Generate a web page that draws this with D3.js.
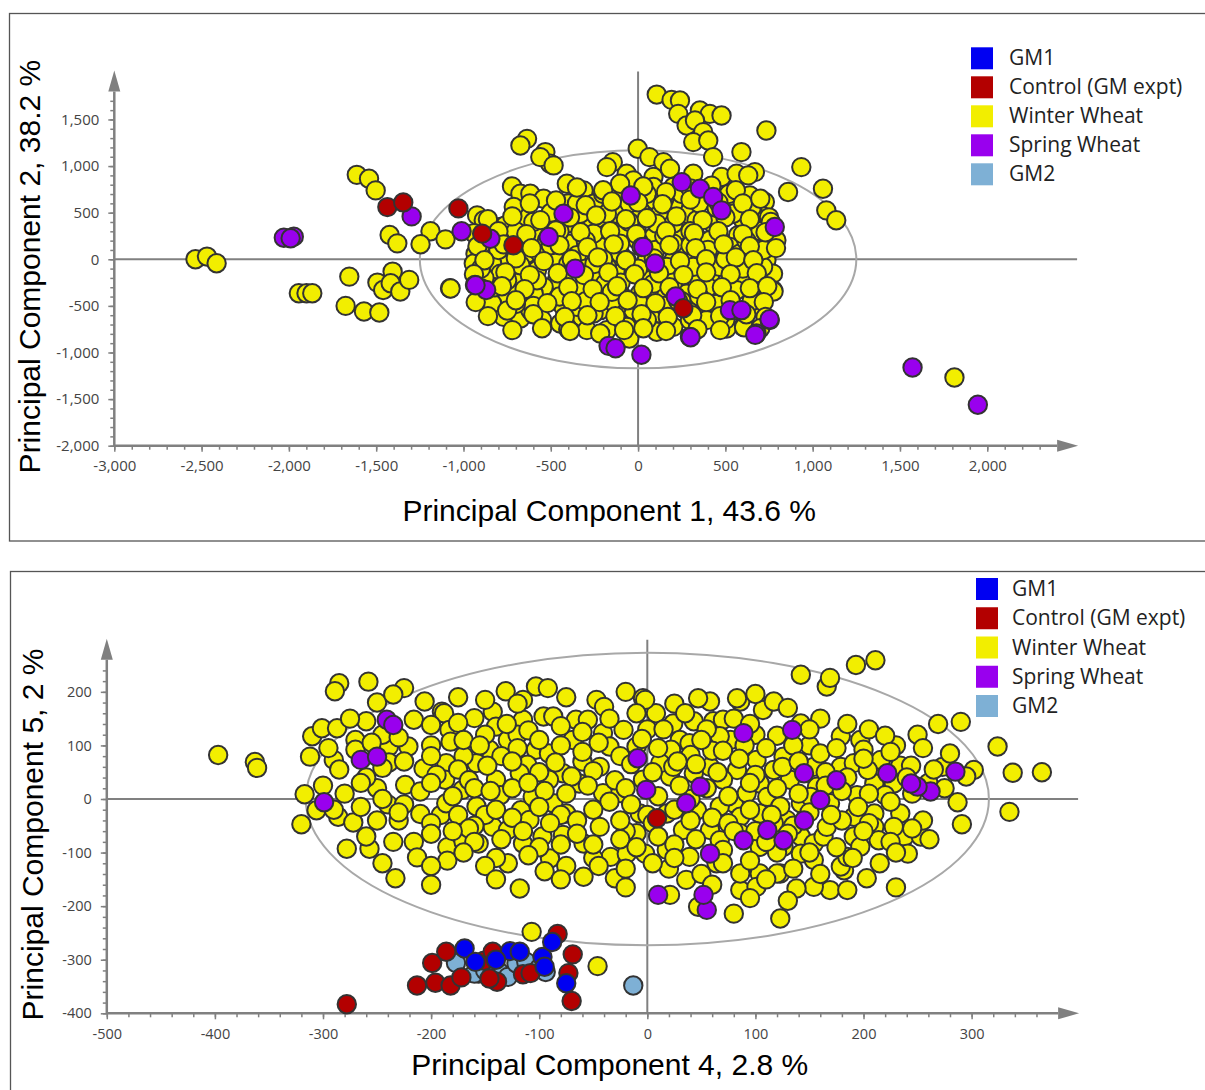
<!DOCTYPE html>
<html>
<head>
<meta charset="utf-8">
<script src="https://cdn.jsdelivr.net/npm/d3@7"></script>
<style>
  body { margin: 0; background: #fff; }
  svg { display: block; }
  .tick text { font-family: "Open Sans", "Noto Sans", sans-serif; fill: #444; }
  .title { font-family: "Liberation Sans", Arial, sans-serif; fill: #000; }
  .legend text { font-family: "Open Sans", "Noto Sans", sans-serif; fill: #222; }
</style>
</head>
<body>
<svg width="1205" height="1090"></svg>
<script>
// groups in legend order
const groups = ["GM1", "Control (GM expt)", "Winter Wheat", "Spring Wheat", "GM2"];
const colors = ["#0000f2", "#b30000", "#f2ee00", "#9900ee", "#7eb0d5"];

// ---------- panel 1: PC1 vs PC2 ----------
const winterTop = [
  [-2535,0],[-2469,29],[-2414,-43],[-1943,-364],[-1899,-364],[-1866,-364],
  [-1654,-186],[-1675,-500],[-1570,-561],[-1482,-571],[-1493,-250],[-1460,-329],
  [-1406,-132],[-1417,-257],[-1362,-346],[-1311,-221],[-1077,-311],
  [-1611,906],[-1541,864],[-1503,739],[-1423,260],[-1379,171],[-1189,300],[-1103,214],[-1246,161],
  [-922,471],[-884,418],[-789,346],[-1074,-314],
  [-636,1292],[-674,1221],[-531,1150],[-503,1025],[-560,1096],[-484,1007],
  [-722,782],[-674,703],[-617,703],[-541,650],
  [107,1767],[192,1710],[240,1703],[230,1560],[278,1435],[354,1596],[411,1560],[478,1542],
  [326,1489],[373,1364],[316,1257],[402,1274],[735,1382],[592,1150],[430,1096],[478,882],
  [564,918],[669,935],[631,900],[935,989],[859,721],[1059,757],[1078,525],[1135,418],
  [1812,-1268],
  [-2,1185],[65,1096],[145,1042],[-145,1042],[-179,989],[-65,918],[88,882],[183,971],[202,775],
  [316,918],[554,650],[640,685],[726,614],[707,471],[602,418],[573,257],[678,168],[735,-11],
  [773,-154],[773,-332],[659,-296],[564,-82],[469,96],[335,239],[430,382],[278,489],[202,596],
  [97,632],[11,525],[-103,311],[-217,418],[-312,739],[-398,596],[-398,168],[-579,257],[-674,454],
  [-712,561],[-760,364],[-636,61],[-750,-11],[-836,-46],[-931,61],[-941,-46],[-827,-225],
  [-665,-225],[-579,-118],[-712,-368],[-770,-618],[-674,-635],[-560,-439],[-446,-689],[-484,-368],
  [-427,-189],[-350,-332],[-322,-618],[-293,-760],[-217,-546],[-255,-189],[-150,25],[-179,275],
  [-217,132],[-103,61],[-8,311],[88,239],[259,61],[183,-189],[278,-368],[411,-189],[449,-403],
  [354,-582],[411,-618],[602,-725],[507,-742],[107,-778],[-27,-653],[-103,-368],[-179,-760],
  [69,-225],[-27,-546],[126,-582],[-103,-154],[-236,-368],[507,-314],[621,-225],[716,-82],
  [745,132],[659,346],[526,132],[373,25],[240,311],[126,489],[-122,489],[-255,596],[-408,382],
  [-484,25],[-350,43],[-560,61],[-674,-64],[-788,-154],[-865,-368],[-779,-439],[-617,-546],
  [-884,-439],[-836,-475],[-179,489],[-293,346],[-103,703],[-27,846],[88,775],[-103,810],
  [-408,810],[-522,204],[335,-225],[411,-11],[202,-11],[-27,-154],[69,-403],[-179,-82],
  [-350,-511],[-427,-511],[-217,-796],[-65,-725],[202,-725],[392,-653],[297,-653],[469,-82],
  [564,-332],[678,61],[583,61],[792,204],[659,489],[545,489],[411,204],[335,418],[202,382],
  [107,382],[202,168],[-103,168],[-255,275],[-331,489],[-465,-225],[-541,-296],[-598,-368],
  [-750,-225],[-255,-582],[-122,-511],[11,-368],[164,-368],[88,-261],[164,-82],[316,-82],
  [50,-11],[-65,-11],[-189,-261],[-579,-225],[607,-729],[776,-346],
  [-900,150],[-800,100],[-700,300],[-600,400],[-500,500],[-400,600],[-300,200],[-200,0],
  [-100,-250],[0,-100],[100,100],[200,-250],[300,300],[400,-300],[500,0],[600,-100],[700,300],
  [750,450],[700,-500],[550,-550],[450,-480],[300,-500],[150,-500],[0,-450],[-150,-450],
  [-300,-450],[-450,-400],[-600,-500],[-700,-480],[-820,-300],[-880,-200],[-900,-100],
  [-300,-100],[-400,-50],[-500,150],[-650,150],[-450,300],[-350,600],[-200,700],[-50,600],
  [50,700],[150,650],[250,700],[350,600],[450,550],[520,700],[650,550],[720,100],[620,200],
  [400,100],[300,150],[150,250],[-50,400],[0,200],[-250,-50],[-150,-350],[50,-650],[250,-450],
  [350,-400],[650,-450],[500,-650],[-50,-850],[-400,-750],[-550,-650],[-750,-550],
  [-350,770],[-200,740],[30,780],[160,720],[300,760],[420,790],[560,740],
  [-620,600],[-470,630],[-300,580],[-150,620],[0,610],[140,590],[300,640],[460,610],[600,600],[700,650],
  [-860,430],[-720,460],[-560,420],[-390,450],[-240,470],[-70,430],[50,440],[220,460],[370,420],
  [500,450],[640,430],[760,400],
  [-940,280],[-800,300],[-640,270],[-470,310],[-330,290],[-160,300],[-10,270],[160,300],[320,280],
  [460,300],[600,270],[730,290],
  [-920,140],[-770,160],[-610,120],[-450,150],[-290,130],[-140,160],[20,130],[180,150],[330,120],
  [490,160],[640,140],[790,120],
  [-880,-10],[-700,10],[-540,-20],[-380,0],[-230,20],[-70,-10],[90,10],[240,-20],[390,0],[560,20],[660,-10],
  [-940,-160],[-760,-140],[-620,-170],[-460,-150],[-310,-170],[-170,-140],[-20,-160],[120,-150],
  [260,-170],[390,-140],[530,-160],[680,-150],
  [-900,-310],[-780,-290],[-650,-320],[-400,-300],[-260,-320],[-120,-290],[30,-310],[180,-300],
  [340,-320],[480,-300],[640,-310],[740,-290],
  [-930,-460],[-700,-440],[-520,-470],[-380,-450],[-220,-460],[-60,-440],[100,-470],[230,-450],
  [390,-460],[530,-440],[720,-460],
  [-860,-610],[-600,-590],[-420,-620],[-290,-600],[-130,-610],[20,-590],[170,-620],[310,-600],
  [470,-610],[620,-590],[730,-620],
  [-720,-760],[-550,-740],[-390,-770],[-80,-760],[30,-740],[160,-770],[340,-750],[470,-760],[700,-740]
];
const springTop = [
  [-2029,231],[-1972,243],[-1990,225],[-1297,460],[-1011,300],[-934,-275],[-870,-330],
  [250,828],[354,757],[430,668],[478,525],[-42,685],[783,346],[-427,489],[-512,239],[-846,221],
  [-931,-278],[-360,-100],[30,132],[97,-46],[216,-400],[526,-546],[592,-546],[754,-653],
  [678,-796],[297,-832],[-169,-929],[-129,-954],[19,-1025],[753,-643],[671,-811],[301,-836],
  [1572,-1161],[1946,-1561]
];
const controlTop = [
  [-1436,560],[-1345,610],[-1029,546],[-893,275],[-714,150],[259,-525]
];

// ---------- panel 2: PC4 vs PC5 ----------
const winterBot = [
  [-397,82],[-363,69],[-361,58],
  [-285,216],[-289,201],[-258,219],[-225,207],[-206,182],[-190,163],[-310,117],[-301,132],
  [-287,132],[-260,145],[-216,148],[-312,79],[-290,73],[-239,98],[-239,68],[-221,98],[-317,9],
  [-306,-21],[-286,-33],[-272,-44],[-320,-47],[-278,-93],[-257,-93],[-216,-80],[-213,-109],
  [-185,-90],[-185,-115],[-233,-148],[-207,57],[-224,26],[-210,14],[-210,-28],[-191,-30],
  [-188,160],[-183,129],[-182,107],[-186,67],[-187,36],[-171,17],[-158,-14],[-170,-80],
  [-156,-83],[-160,151],[-143,163],[-131,201],[-103,210],[-92,207],[-115,185],[-140,135],
  [-129,110],[-146,92],[-158,67],[-140,36],[-136,7],[-143,-52],[-129,-58],[-117,-21],[-106,4],
  [-115,-83],[-129,-120],[-118,-167],[-96,154],[-87,154],[-115,148],[-103,92],[-91,85],[-111,64],
  [-78,48],[-87,-8],[-75,-27],[-90,-111],[-78,-67],[-97,-70],[-66,148],[-55,148],[-47,185],
  [-41,123],[-44,60],[-63,29],[-41,11],[-44,-52],[-59,-83],[-59,-145],[-30,-148],[-34,-108],
  [-19,-102],[-25,11],[-22,129],[-4,188],[-10,98],[-4,36],[-7,-27],[-10,-64],[-69,110],[-35,98],
  [-118,48],[-91,36],[-109,-39],[-186,-8],[-107,-248],[-46,-312],
  [193,250],[211,259],[142,232],[166,210],[169,226],[269,140],[324,98],[338,49],[335,-24],
  [365,50],[290,144],[273,60],[302,54],[295,42],[287,-6],[291,-47],[234,62],[244,62],[216,73],
  [228,29],[210,29],[220,7],[234,-27],[238,-70],[253,-70],[261,-75],[241,-102],[203,-148],
  [179,117],[197,110],[179,60],[191,67],[204,54],[176,29],[194,7],[169,-8],[191,-33],[210,-27],
  [210,-52],[191,-70],[214,-77],[182,-133],[169,-170],[154,-164],[138,-167],[123,-223],[142,141],
  [154,60],[157,23],[142,-8],[129,-39],[126,-89],[123,-139],[104,-139],[86,-170],[80,-214],
  [47,-201],[21,-179],[107,166],[117,182],[86,182],[83,188],[58,182],[47,188],[61,145],[43,145],
  [24,141],[8,160],[-2,185],[30,110],[22,92],[39,104],[58,60],[77,110],[83,54],[101,73],[117,54],
  [126,79],[132,36],[104,29],[80,-8],[67,-14],[46,-21],[18,-27],[33,-58],[58,-58],[86,-33],
  [104,-27],[117,-45],[142,-70],[154,-83],[163,-70],[104,-89],[86,-64],[67,-77],[64,-120],
  [86,-139],[39,-108],[18,-95],[-2,-102],[36,-151],[101,-164],[120,-139],[142,-102],[154,-114],
  [179,-126],[197,-89],[228,-52],[21,42],[12,67],[24,60],[43,48],[70,36],[92,11],[111,4],
  [123,-14],[70,148],[151,4],[166,-52],[185,-108],[67,117],
  [-250,20],[-230,-40],[-170,80],[-150,-30],[-120,120],[-60,70],[-20,-60],[0,130],[40,0],
  [60,90],[100,120],[120,-100],[150,100],[180,-40],[230,100],[260,30],[-160,-50],[-200,100],
  [-270,110],[-80,-30],[0,-30],[100,-60],[-240,-10],[-140,-110],[-50,-110],[20,-130],[160,150],
  [-250,180],[-235,195],[-175,190],[-150,185],[-120,178],[-75,190],[-40,172],[-20,200],[25,178],
  [100,196],[130,170],
  [-275,150],[-245,120],[-200,138],[-175,142],[-150,120],[-130,140],[-110,128],[-80,136],[-60,125],
  [-35,150],[-10,160],[15,130],[35,160],[55,130],[80,150],[95,140],[120,118],[150,130],[185,140],
  [205,130],[220,118],[250,120],
  [-295,95],[-270,92],[-255,105],[-230,115],[-200,80],[-170,110],[-155,100],[-135,80],[-120,95],
  [-100,110],[-80,100],[-60,88],[-45,105],[-25,80],[-5,112],[10,95],[40,82],[50,110],[70,90],
  [90,100],[110,95],[135,100],[160,85],[175,95],[200,92],[225,88],[255,95],[280,85],
  [-285,55],[-260,40],[-245,58],[-225,70],[-195,45],[-175,55],[-165,35],[-148,62],[-125,70],
  [-100,50],[-85,68],[-70,42],[-50,52],[-30,35],[-15,65],[5,50],[28,70],[45,65],[65,50],[85,75],
  [100,45],[125,60],[140,70],[165,50],[185,40],[200,75],[240,40],[265,55],
  [-300,25],[-280,10],[-265,30],[-245,0],[-225,-10],[-200,30],[-180,5],[-160,20],[-145,15],
  [-125,20],[-110,30],[-95,15],[-75,10],[-55,25],[-35,-5],[-20,20],[10,5],[30,25],[55,20],[75,5],
  [95,30],[120,20],[140,10],[165,25],[180,15],[205,10],[225,-5],[245,10],[275,20],
  [-290,-20],[-265,-15],[-250,-40],[-230,-25],[-200,-45],[-175,-30],[-165,-55],[-140,-20],
  [-125,-35],[-100,-15],[-90,-45],[-65,-40],[-50,-20],[-25,-40],[-15,-10],[5,-45],[25,-20],
  [40,-40],[60,-35],[75,-45],[95,-20],[115,-30],[135,-50],[150,-25],[170,-30],[195,-15],
  [205,-45],[255,-40],
  [-260,-70],[-235,-80],[-200,-65],[-180,-60],[-160,-80],[-135,-75],[-115,-60],[-100,-90],
  [-80,-85],[-65,-65],[-50,-85],[-25,-75],[-10,-90],[10,-70],[25,-85],[45,-75],[70,-95],[80,-60],
  [110,-80],[130,-65],[150,-100],[175,-90],[200,-60],[225,-80],[245,-55],
  [-245,-120],[-200,-125],[-170,-100],[-150,-125],[-110,-105],[-95,-135],[-75,-125],[-45,-125],
  [-20,-130],[5,-120],[25,-110],[50,-140],[70,-120],[95,-115],[110,-150],[135,-130],[160,-140],
  [190,-110],[215,-120],[230,-100],
  [-200,-160],[-140,-150],[-80,-150],[-20,-165],[60,-160],[95,-185],[130,-190],[185,-170],[230,-165]
];
const springBot = [
  [-299,-6],[-241,148],[-235,138],[-265,73],[-250,79],[-9,76],[285,51],[262,14],[250,23],
  [244,29],[222,48],[134,129],[89,123],[55,-207],[52,-179],[10,-179],[49,23],[126,-77],
  [89,-77],[58,-102],[-1,17],[111,-58],[145,-40],[160,-2],[145,48],[36,-8],[175,35]
];
const gm2Bot = [
  [-177,-306],[-156,-326],[-137,-323],[-129,-332],[-121,-307],[-112,-304],[-100,-316],
  [-94,-323],[-160,-326],[-150,-320],[-13,-348]
];
const controlBot = [
  [-278,-383],[-213,-348],[-196,-343],[-182,-348],[-199,-306],[-186,-285],[-172,-333],
  [-151,-302],[-143,-285],[-139,-341],[-146,-335],[-115,-327],[-108,-325],[-83,-252],
  [-69,-290],[-73,-325],[-70,-377],[9,-36]
];
const gm1Bot = [
  [-169,-279],[-159,-304],[-127,-284],[-118,-285],[-97,-295],[-95,-313],[-88,-267],
  [-75,-344],[-140,-300]
];

// axis titles
const titlesTop = ["Principal Component 1, 43.6 %", "Principal Component 2, 38.2 %"];
const titlesBot = ["Principal Component 4, 2.8 %", "Principal Component 5, 2 %"];

const svg = d3.select("svg");
const comma = d3.format(",");
// plain hyphen for negatives, like the original software
const fmt = d => comma(d).replace("\u2212", "-");

const panels = [
  {
    frame: [9.5, 13.5, 1230, 527.5],
    xDomain: [-3000, 2400], xRange: [114.3, 1057.1],
    yDomain: [-2000, 1800], yRange: [445.7, 91.5],
    xMajor: d3.range(-3000, 2001, 500), xMinor: d3.range(-3000, 2301, 100),
    yMajor: d3.range(-2000, 1501, 500), yMinor: d3.range(-2000, 1701, 100),
    ellipse: [1250, 1170],
    // drawn back to front: [data, colour index]
    series: [[winterTop, 2], [springTop, 3], [controlTop, 1]],
    titles: titlesTop, xTitleY: 521, yTitleX: 40, tickFont: 15,
    legend: [971, 47.3, 29, 1009]
  },
  {
    frame: [10.5, 571.5, 1230, 560],
    xDomain: [-500, 380], xRange: [106.8, 1058.1],
    yDomain: [-400, 260], yRange: [1013.3, 659.7],
    xMajor: d3.range(-500, 301, 100), xMinor: d3.range(-500, 361, 20),
    yMajor: d3.range(-400, 201, 100), yMinor: d3.range(-400, 241, 20),
    ellipse: [316, 273],
    series: [[winterBot, 2], [springBot, 3], [gm2Bot, 4], [controlBot, 1], [gm1Bot, 0]],
    titles: titlesBot, xTitleY: 1075, yTitleX: 43, tickFont: 14.5,
    legend: [976, 578, 29.25, 1012]
  }
];

panels.forEach(drawPanel);

function drawPanel(p) {
  const g = svg.append("g");
  const x = d3.scaleLinear().domain(p.xDomain).range(p.xRange);
  const y = d3.scaleLinear().domain(p.yDomain).range(p.yRange);
  const axisColor = "#808080";

  // outer frame
  g.append("rect")
    .attr("x", p.frame[0]).attr("y", p.frame[1])
    .attr("width", p.frame[2]).attr("height", p.frame[3])
    .attr("fill", "none").attr("stroke", "#555").attr("stroke-width", 1.3);

  // zero lines
  g.append("line")
    .attr("x1", x.range()[0]).attr("x2", x.range()[1] + 20)
    .attr("y1", y(0)).attr("y2", y(0))
    .attr("stroke", axisColor).attr("stroke-width", 2);
  g.append("line")
    .attr("x1", x(0)).attr("x2", x(0))
    .attr("y1", y.range()[0]).attr("y2", y.range()[1] - 20)
    .attr("stroke", axisColor).attr("stroke-width", 2);

  // ellipse around the bulk of the samples
  g.append("ellipse")
    .attr("cx", x(0)).attr("cy", y(0))
    .attr("rx", x(p.ellipse[0]) - x(0))
    .attr("ry", y(0) - y(p.ellipse[1]))
    .attr("fill", "none").attr("stroke", "#a8a8a8").attr("stroke-width", 2);

  // minor ticks first, then majors with labels
  const xb = y.range()[0], yl = x.range()[0];
  g.append("g").attr("transform", `translate(0,${xb})`)
    .call(d3.axisBottom(x).tickValues(p.xMinor).tickSize(4).tickSizeOuter(0).tickFormat(""));
  g.append("g").attr("transform", `translate(0,${xb})`)
    .call(d3.axisBottom(x).tickValues(p.xMajor).tickSize(6).tickSizeOuter(0).tickPadding(9).tickFormat(fmt));
  g.append("g").attr("transform", `translate(${yl},0)`)
    .call(d3.axisLeft(y).tickValues(p.yMinor).tickSize(4).tickSizeOuter(0).tickFormat(""));
  g.append("g").attr("transform", `translate(${yl},0)`)
    .call(d3.axisLeft(y).tickValues(p.yMajor).tickSize(6).tickSizeOuter(0).tickPadding(9).tickFormat(fmt));

  g.selectAll(".domain").remove();
  g.selectAll(".tick line").attr("stroke", axisColor).attr("stroke-width", 1.5);
  g.selectAll(".tick text").style("font-size", p.tickFont + "px");

  // axis lines with arrow heads
  g.append("line")
    .attr("x1", yl).attr("x2", x.range()[1]).attr("y1", xb).attr("y2", xb)
    .attr("stroke", axisColor).attr("stroke-width", 2.5);
  g.append("line")
    .attr("x1", yl).attr("x2", yl).attr("y1", xb + 1).attr("y2", y.range()[1])
    .attr("stroke", axisColor).attr("stroke-width", 2.5);
  const xe = x.range()[1], ye = y.range()[1];
  g.append("path")
    .attr("d", `M${xe},${xb - 6}L${xe + 21},${xb}L${xe},${xb + 6}Z`)
    .attr("fill", axisColor);
  g.append("path")
    .attr("d", `M${yl - 6},${ye}L${yl},${ye - 21}L${yl + 6},${ye}Z`)
    .attr("fill", axisColor);

  // points
  p.series.forEach(function(s) {
    g.append("g").selectAll("circle")
      .data(s[0])
      .enter()
      .append("circle")
      .attr("cx", d => x(d[0]))
      .attr("cy", d => y(d[1]))
      .attr("r", 9.2)
      .attr("fill", colors[s[1]])
      .attr("stroke", "#333")
      .attr("stroke-width", 2);
  });

  // axis titles
  g.append("text").attr("class", "title")
    .attr("x", (p.frame[0] + 1205) / 2 + 2).attr("y", p.xTitleY)
    .attr("text-anchor", "middle").style("font-size", "30px")
    .text(p.titles[0]);
  g.append("text").attr("class", "title")
    .attr("transform", `translate(${p.yTitleX},${(y.range()[0] + y.range()[1] - 20) / 2 + 8}) rotate(-90)`)
    .attr("text-anchor", "middle").style("font-size", "30px")
    .text(p.titles[1]);

  // legend
  const [lx, ly, step, tx] = p.legend;
  const lg = g.append("g").attr("class", "legend");
  groups.forEach(function(name, i) {
    lg.append("rect")
      .attr("x", lx).attr("y", ly + i * step)
      .attr("width", 22).attr("height", 22)
      .attr("fill", colors[i]);
    lg.append("text")
      .attr("x", tx).attr("y", ly + i * step + 18)
      .style("font-size", "21px")
      .text(name);
  });
}
</script>
</body>
</html>
